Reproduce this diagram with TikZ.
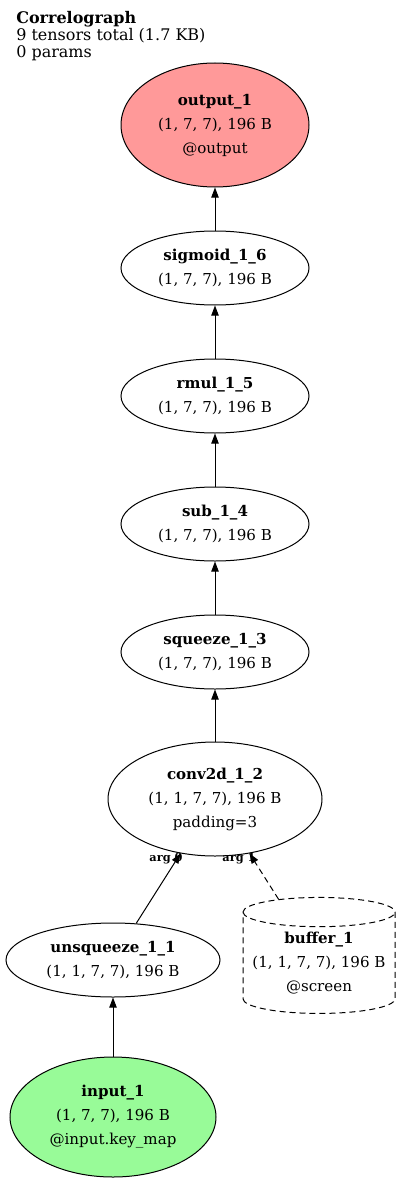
\documentclass[tikz,border=0pt]{standalone}
\usepackage{fontspec}
\setmainfont{DejaVu Serif}
\usetikzlibrary{shapes.geometric,arrows.meta}
\definecolor{outRed}{HTML}{FF9999}
\definecolor{inGreen}{HTML}{98FB98}

\tikzset{
  tensor/.style={ellipse, draw, line width=0.75pt, align=center, inner sep=0pt,
    minimum width=141pt, minimum height=55.5pt, font=\fontsize{11.3}{18}\selectfont},
  edge/.style={->, line width=0.75pt},
  longdash/.style={dash pattern=on 4.5pt off 3pt},
  argtag/.style={font=\fontsize{8.5}{9}\selectfont\bfseries, inner sep=0pt},
}

\begin{document}
\begin{tikzpicture}[x=0.75pt, y=0.75pt, >={Triangle[length=7.5pt,width=5.5pt]}]
  \useasboundingbox (0,0) rectangle (400,-1184);
  % title block
  \node[anchor=north west, align=left, inner sep=0pt,
    font=\fontsize{12}{12.75}\selectfont] (title) at (16,-11)
    {\textbf{Correlograph}\\9 tensors total (1.7 KB)\\0 params};
  % tensor chain
  \node[tensor, fill=outRed, minimum height=93pt] (out) at (215,-125)
    {\textbf{output\_1}\\(1, 7, 7), 196 B\\@output};
  \node[tensor] (sig) at (215,-268) {\textbf{sigmoid\_1\_6}\\(1, 7, 7), 196 B};
  \node[tensor] (rmul) at (215,-396) {\textbf{rmul\_1\_5}\\(1, 7, 7), 196 B};
  \node[tensor] (sub) at (215,-524) {\textbf{sub\_1\_4}\\(1, 7, 7), 196 B};
  \node[tensor] (sq) at (215,-652) {\textbf{squeeze\_1\_3}\\(1, 7, 7), 196 B};
  \node[tensor, minimum width=160.5pt, minimum height=85.5pt] (conv) at (215,-799)
    {\textbf{conv2d\_1\_2}\\(1, 1, 7, 7), 196 B\\padding=3};
  \node[tensor, minimum width=160.5pt] (unsq) at (113,-960)
    {\textbf{unsqueeze\_1\_1}\\(1, 1, 7, 7), 196 B};
  \node[tensor, fill=inGreen, minimum width=154.5pt, minimum height=90pt] (inp) at (113,-1117)
    {\textbf{input\_1}\\(1, 7, 7), 196 B\\@input.key\_map};
  \node[cylinder, shape border rotate=90, aspect=0.22, draw, longdash, line width=0.75pt,
    align=center, inner sep=0pt, minimum width=114pt, minimum height=87pt,
    font=\fontsize{11.3}{18}\selectfont] (buf) at (319,-963)
    {\textbf{buffer\_1}\\(1, 1, 7, 7), 196 B\\@screen};

  \foreach \src/\dst in {sig/out, rmul/sig, sub/rmul, sq/sub, conv/sq, inp/unsq}
    \draw[edge] (\src) -- (\dst);
  \draw[edge] (unsq) -- (conv);
  \draw[edge, longdash] (buf) -- (conv);
  \node[argtag] (arg0) at (166,-859) {arg 0};
  \node[argtag] (arg1) at (239,-859) {arg 1};
\end{tikzpicture}
\end{document}
